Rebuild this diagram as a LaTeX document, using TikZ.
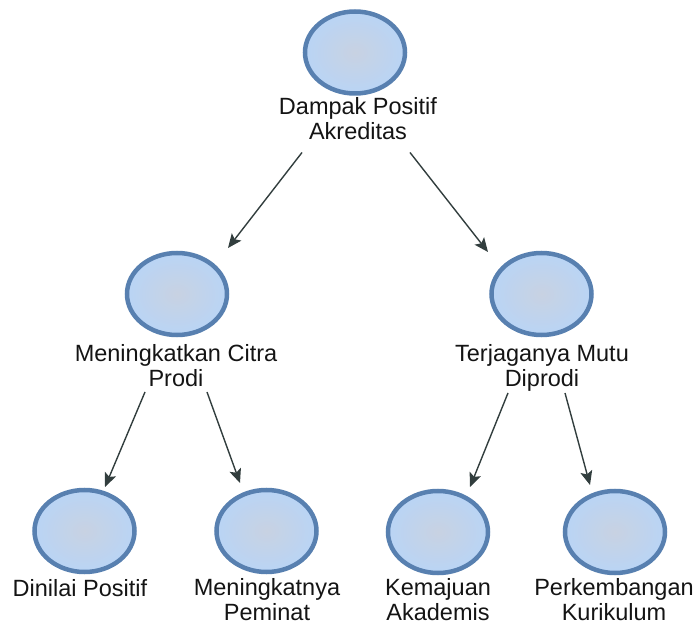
\documentclass[tikz,border=0pt]{standalone}
\usepackage{fontspec}
\setmainfont{Liberation Sans}
\usetikzlibrary{arrows.meta,calc,shapes.geometric}
\definecolor{ringc}{RGB}{88,128,176}
\definecolor{fillin}{RGB}{200,210,226}
\definecolor{fillout}{RGB}{185,212,245}
\definecolor{arrc}{RGB}{50,62,62}
\definecolor{txtc}{RGB}{20,20,20}
\tikzset{
  bub/.style={ellipse, draw=ringc, line width=4.5pt, inner color=fillin, outer color=fillout,
              minimum width=100pt, minimum height=82pt, inner sep=0pt},
  lab/.style={anchor=base, align=center, inner sep=0pt, text=txtc,
              font=\fontsize{23.5}{25}\selectfont},
  arr/.style={draw=arrc, line width=1.4pt, -{Stealth[length=14pt,width=12pt,inset=3pt]}}
}
\begin{document}
\begin{tikzpicture}[x=1pt,y=-1pt]
\useasboundingbox (0,0) rectangle (697,628);
\node[bub] (e0) at (355,52.5) {};
\node[bub] (e1) at (177,294) {};
\node[bub] (e2) at (541.5,294) {};
\node[bub] (e3) at (84.5,531) {};
\node[bub] (e4) at (266.5,531) {};
\node[bub] (e5) at (438,532) {};
\node[bub] (e6) at (615,532) {};
\node[lab] (l0) at (358,140) {Dampak Positif\\Akreditas};
\node[lab] (l1) at (176,387) {Meningkatkan Citra\\Prodi};
\node[lab] (l2) at (542,387) {Terjaganya Mutu\\Diprodi};
\node[lab] (l3) at (80,597) {Dinilai Positif};
\node[lab] (l4) at (267,620) {Meningkatnya\\Peminat};
\node[lab] (l5) at (438,620) {Kemajuan\\Akademis};
\node[lab] (l6) at (614,620) {Perkembangan\\Kurikulum};
\draw[arr] ($(e0)+(-53,100)$) -- ($(e1)+(51,-46)$);
\draw[arr] ($(e0)+(55,100)$) -- ($(e2)+(-53.5,-42)$);
\draw[arr] ($(e1)+(-32,98)$) -- ($(e3)+(20.5,-44)$);
\draw[arr] ($(e1)+(30,98)$) -- ($(e4)+(-26.5,-48)$);
\draw[arr] ($(e2)+(-33.5,99)$) -- ($(e5)+(32,-45)$);
\draw[arr] ($(e2)+(23.5,99)$) -- ($(e6)+(-25,-47)$);
\end{tikzpicture}
\end{document}
